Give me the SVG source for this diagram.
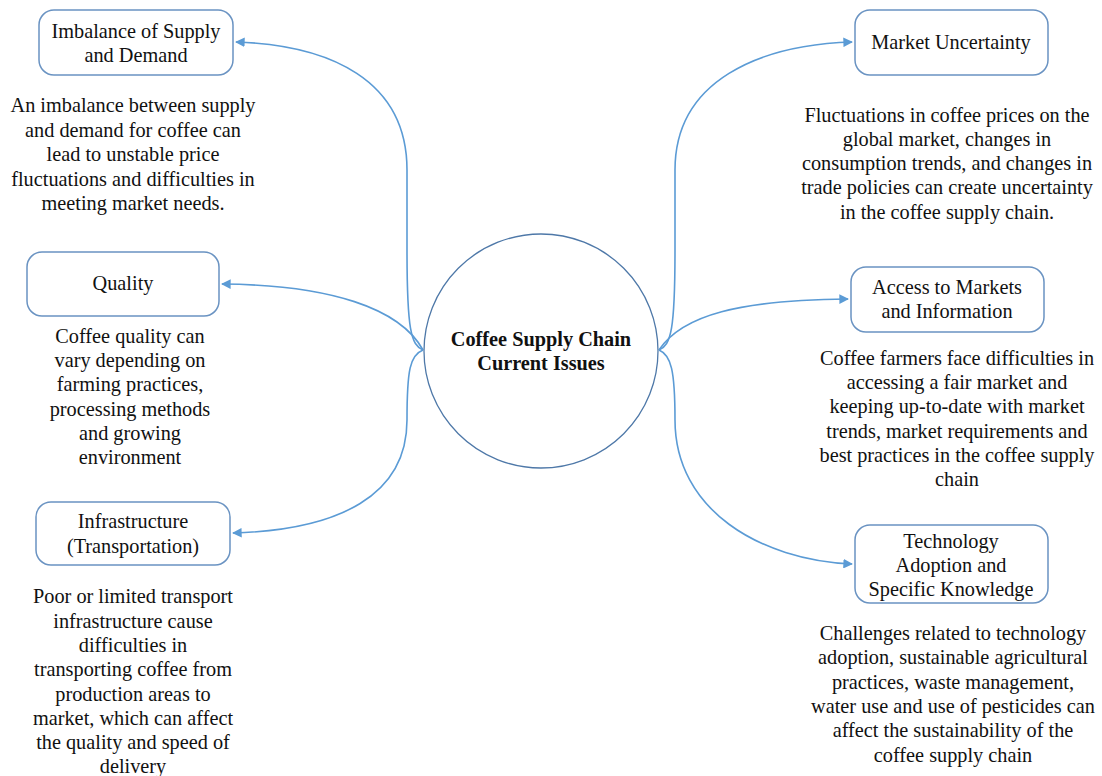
<svg xmlns="http://www.w3.org/2000/svg" width="1102" height="776" viewBox="0 0 1102 776">
<defs>
<style>
.box{fill:#fff;stroke:#6A93C2;stroke-width:1.5}
.hub{fill:#fff;stroke:#4E78A8;stroke-width:1.3}
.t{font-family:"Liberation Serif","Times New Roman",serif;font-size:20.3px;fill:#111;text-anchor:middle}
.b{font-weight:bold}
.c{fill:none;stroke:#5B9BD5;stroke-width:1.6}
</style>
<marker id="ah" viewBox="0 0 10 10" refX="9" refY="5" markerWidth="6" markerHeight="6" markerUnits="strokeWidth" orient="auto">
<path d="M0,0 L10,5 L0,10 z" fill="#5B9BD5"/>
</marker>
</defs>
<rect width="1102" height="776" fill="#fff"/>
<g id="connectors">
<path class="c" marker-end="url(#ah)" d="M423,350 C411,345 407,330 407,250 L407,170 C407,80 330,45 236,42"/>
<path class="c" marker-end="url(#ah)" d="M423,350 C400,308 330,285 222,284"/>
<path class="c" marker-end="url(#ah)" d="M423,350 C410,355 407,370 407,420 C407,495 340,530 233,533"/>
<path class="c" marker-end="url(#ah)" d="M659,350 C671,345 675,330 675,250 L675,170 C675,80 760,45 852,42"/>
<path class="c" marker-end="url(#ah)" d="M659,350 C682,315 740,300 848,299"/>
<path class="c" marker-end="url(#ah)" d="M659,350 C671,355 675,370 675,420 C675,510 760,560 852,564"/>
</g>
<g id="hub">
<circle class="hub" cx="541" cy="351" r="117"/>
<text class="t b" x="541" y="346">Coffee Supply Chain</text>
<text class="t b" x="541" y="370">Current Issues</text>
</g>
<g id="imbalance">
<rect class="box" x="39" y="10" width="194" height="65" rx="15"/>
<text class="t" x="136" y="38">Imbalance of Supply</text>
<text class="t" x="136" y="62">and Demand</text>
</g>
<g id="imbalance-desc">
<text class="t" x="133" y="112">An imbalance between supply</text>
<text class="t" x="133" y="137">and demand for coffee can</text>
<text class="t" x="133" y="161">lead to unstable price</text>
<text class="t" x="133" y="186">fluctuations and difficulties in</text>
<text class="t" x="133" y="210">meeting market needs.</text>
</g>
<g id="quality">
<rect class="box" x="27" y="252" width="192" height="64" rx="15"/>
<text class="t" x="123" y="290">Quality</text>
</g>
<g id="quality-desc">
<text class="t" x="130" y="343">Coffee quality can</text>
<text class="t" x="130" y="367">vary depending on</text>
<text class="t" x="130" y="391">farming practices,</text>
<text class="t" x="130" y="416">processing methods</text>
<text class="t" x="130" y="440">and growing</text>
<text class="t" x="130" y="464">environment</text>
</g>
<g id="infrastructure">
<rect class="box" x="36" y="502" width="194" height="63" rx="15"/>
<text class="t" x="133" y="528">Infrastructure</text>
<text class="t" x="133" y="553">(Transportation)</text>
</g>
<g id="infrastructure-desc">
<text class="t" x="133" y="603">Poor or limited transport</text>
<text class="t" x="133" y="628">infrastructure cause</text>
<text class="t" x="133" y="652">difficulties in</text>
<text class="t" x="133" y="676">transporting coffee from</text>
<text class="t" x="133" y="701">production areas to</text>
<text class="t" x="133" y="725">market, which can affect</text>
<text class="t" x="133" y="749">the quality and speed of</text>
<text class="t" x="133" y="773">delivery</text>
</g>
<g id="market-uncertainty">
<rect class="box" x="855" y="10" width="193" height="65" rx="15"/>
<text class="t" x="951" y="49">Market Uncertainty</text>
</g>
<g id="market-uncertainty-desc">
<text class="t" x="947" y="122">Fluctuations in coffee prices on the</text>
<text class="t" x="947" y="146">global market, changes in</text>
<text class="t" x="947" y="170">consumption trends, and changes in</text>
<text class="t" x="947" y="194">trade policies can create uncertainty</text>
<text class="t" x="947" y="219">in the coffee supply chain.</text>
</g>
<g id="access">
<rect class="box" x="851" y="267" width="193" height="65" rx="15"/>
<text class="t" x="947" y="294">Access to Markets</text>
<text class="t" x="947" y="318">and Information</text>
</g>
<g id="access-desc">
<text class="t" x="957" y="365">Coffee farmers face difficulties in</text>
<text class="t" x="957" y="389">accessing a fair market and</text>
<text class="t" x="957" y="413">keeping up-to-date with market</text>
<text class="t" x="957" y="438">trends, market requirements and</text>
<text class="t" x="957" y="462">best practices in the coffee supply</text>
<text class="t" x="957" y="486">chain</text>
</g>
<g id="technology">
<rect class="box" x="855" y="525" width="193" height="78" rx="15"/>
<text class="t" x="951" y="548">Technology</text>
<text class="t" x="951" y="572">Adoption and</text>
<text class="t" x="951" y="596">Specific Knowledge</text>
</g>
<g id="technology-desc">
<text class="t" x="953" y="640">Challenges related to technology</text>
<text class="t" x="953" y="664">adoption, sustainable agricultural</text>
<text class="t" x="953" y="689">practices, waste management,</text>
<text class="t" x="953" y="713">water use and use of pesticides can</text>
<text class="t" x="953" y="737">affect the sustainability of the</text>
<text class="t" x="953" y="762">coffee supply chain</text>
</g>
</svg>
